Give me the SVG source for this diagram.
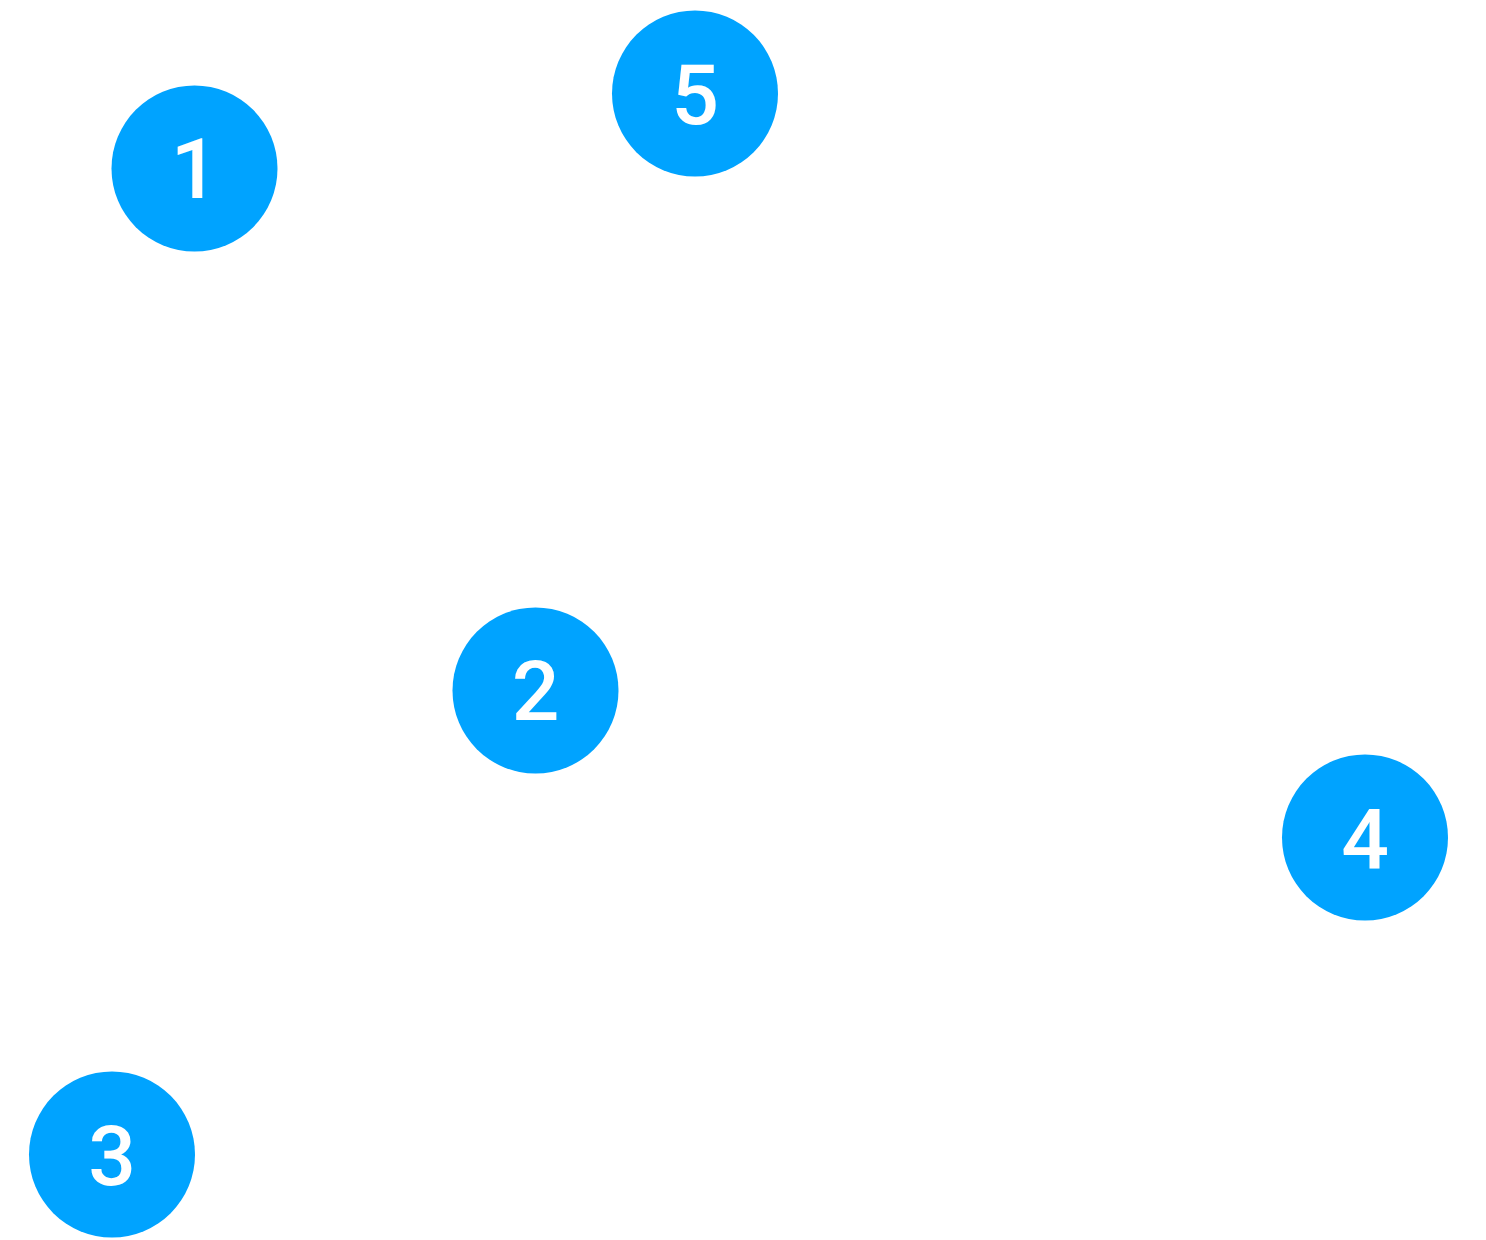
<svg xmlns="http://www.w3.org/2000/svg" width="1486" height="1240" viewBox="0 0 1486 1240">
<style>
.n circle{fill:#00A3FF}
.n text{fill:#fff;font-family:Roboto,"Liberation Sans",Arial,sans-serif;font-weight:500;font-size:84px;text-anchor:middle}
</style>
<rect width="1486" height="1240" fill="#fff"/>
<g id="connectors"></g>
<g id="node1" class="n"><circle cx="194.5" cy="168.5" r="83"/><text x="194.5" y="198">1</text></g>
<g id="node5" class="n"><circle cx="695" cy="93.5" r="83"/><text x="695" y="124">5</text></g>
<g id="node2" class="n"><circle cx="535.5" cy="690.5" r="83"/><text x="535.5" y="720">2</text></g>
<g id="node4" class="n"><circle cx="1365" cy="837.5" r="83"/><text x="1365" y="868">4</text></g>
<g id="node3" class="n"><circle cx="112" cy="1154.5" r="83"/><text x="112" y="1185">3</text></g>
</svg>
